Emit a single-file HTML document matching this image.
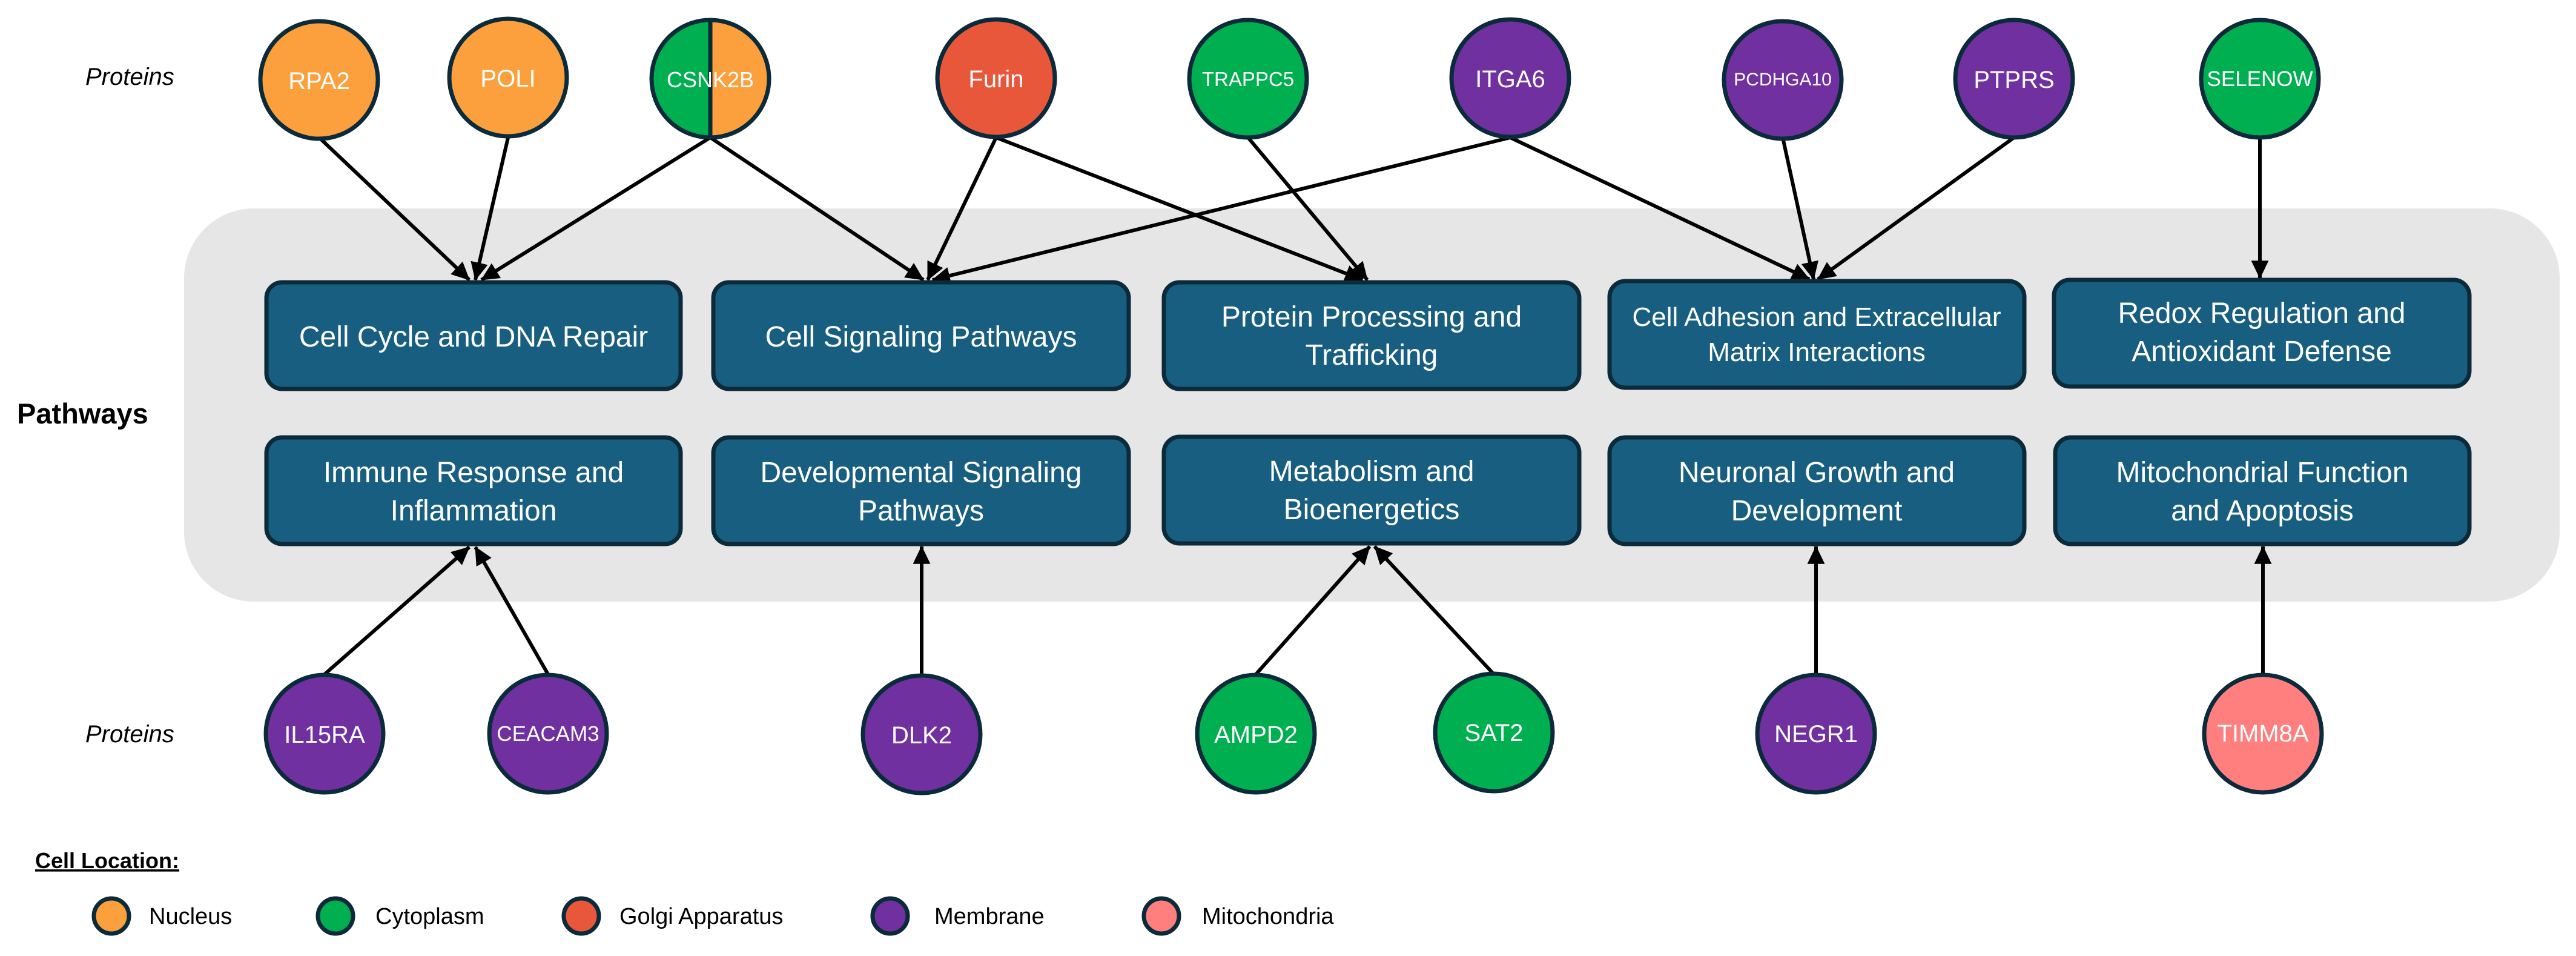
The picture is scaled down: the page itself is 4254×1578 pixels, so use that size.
<!DOCTYPE html>
<html><head><meta charset="utf-8"><style>
html,body{margin:0;padding:0;background:#fff;}
svg{display:block;}
text{font-family:"Liberation Sans",sans-serif;}
</style></head><body>
<svg width="4254" height="1578" viewBox="0 0 4254 1578" xmlns="http://www.w3.org/2000/svg">
<defs>
<marker id="ah" markerWidth="6" markerHeight="6" refX="4.8" refY="3" orient="auto" markerUnits="strokeWidth">
<path d="M0,0.6 L5,3 L0,5.4 Z" fill="#000"/>
</marker>
<clipPath id="cl"><circle cx="1173" cy="130" r="97"/></clipPath>
</defs>
<!-- gray band -->
<rect x="304" y="344" width="3923" height="649" rx="115" fill="#e6e6e6"/>
<text x="28" y="699" font-size="47" font-weight="bold" fill="#000">Pathways</text>
<text x="141" y="140" font-size="40" font-style="italic" fill="#000">Proteins</text>
<text x="141" y="1225" font-size="40" font-style="italic" fill="#000">Proteins</text>

<!-- connectors -->
<g stroke="#000" stroke-width="6" fill="none" marker-end="url(#ah)">
<line x1="527" y1="227" x2="775" y2="462"/>
<line x1="839" y1="227" x2="785" y2="462"/>
<line x1="1173" y1="227" x2="795" y2="462"/>
<line x1="1173" y1="227" x2="1525" y2="462"/>
<line x1="1645" y1="227" x2="1532" y2="462"/>
<line x1="2494" y1="227" x2="1540" y2="462"/>
<line x1="1645" y1="227" x2="2250" y2="462"/>
<line x1="2061" y1="227" x2="2258" y2="462"/>
<line x1="2494" y1="227" x2="2988" y2="461"/>
<line x1="2944" y1="227" x2="2995" y2="461"/>
<line x1="3326" y1="227" x2="3002" y2="461"/>
<line x1="3732" y1="227" x2="3732" y2="459"/>
<line x1="536" y1="1113" x2="775" y2="903"/>
<line x1="905" y1="1113" x2="785" y2="903"/>
<line x1="1522" y1="1113" x2="1522" y2="902"/>
<line x1="2074" y1="1113" x2="2262" y2="902"/>
<line x1="2467" y1="1113" x2="2270" y2="902"/>
<line x1="2999" y1="1113" x2="2999" y2="902"/>
<line x1="3737" y1="1113" x2="3737" y2="902"/>
</g>

<!-- boxes -->
<g fill="#175e80" stroke="#0b2a3a" stroke-width="7">
<rect x="440" y="466" width="684" height="176" rx="26"/>
<rect x="1178" y="466" width="686" height="176" rx="26"/>
<rect x="1922" y="466" width="686" height="176" rx="26"/>
<rect x="2658" y="464" width="685" height="176" rx="26"/>
<rect x="3392" y="462" width="686" height="176" rx="26"/>
<rect x="440" y="722" width="684" height="176" rx="26"/>
<rect x="1178" y="722" width="686" height="176" rx="26"/>
<rect x="1922" y="721" width="686" height="176" rx="26"/>
<rect x="2658" y="722" width="685" height="176" rx="26"/>
<rect x="3394" y="722" width="684" height="176" rx="26"/>
</g>
<g fill="#fff" font-size="48" text-anchor="middle">
<text x="782" y="572">Cell Cycle and DNA Repair</text>
<text x="1521" y="572">Cell Signaling Pathways</text>
<text x="2265" y="539">Protein Processing and</text>
<text x="2265" y="602">Trafficking</text>
<text x="3000" y="538" font-size="44">Cell Adhesion and Extracellular</text>
<text x="3000" y="596" font-size="44">Matrix Interactions</text>
<text x="3735" y="533">Redox Regulation and</text>
<text x="3735" y="596">Antioxidant Defense</text>
<text x="782" y="796">Immune Response and</text>
<text x="782" y="859">Inflammation</text>
<text x="1521" y="796">Developmental Signaling</text>
<text x="1521" y="859">Pathways</text>
<text x="2265" y="794">Metabolism and</text>
<text x="2265" y="857">Bioenergetics</text>
<text x="3000" y="796">Neuronal Growth and</text>
<text x="3000" y="859">Development</text>
<text x="3736" y="796">Mitochondrial Function</text>
<text x="3736" y="859">and Apoptosis</text>
</g>

<!-- circles -->
<g stroke="#0b2a3a" stroke-width="7">
<circle cx="527" cy="132" r="97" fill="#fba03c"/>
<circle cx="839" cy="128" r="97" fill="#fba03c"/>
<g clip-path="url(#cl)"><rect x="1070" y="30" width="103" height="200" fill="#00b050" stroke="none"/><rect x="1173" y="30" width="103" height="200" fill="#fba03c" stroke="none"/></g>
<circle cx="1173" cy="130" r="97" fill="none"/>
<line x1="1173" y1="35" x2="1173" y2="225"/>
<circle cx="1645" cy="129" r="97" fill="#e9573a"/>
<circle cx="2061" cy="130" r="97" fill="#00b050"/>
<circle cx="2494" cy="129" r="97" fill="#7030a0"/>
<circle cx="2944" cy="132" r="97" fill="#7030a0"/>
<circle cx="3326" cy="130" r="97" fill="#7030a0"/>
<circle cx="3732" cy="130" r="97" fill="#00b050"/>
<circle cx="536" cy="1211" r="97" fill="#7030a0"/>
<circle cx="905" cy="1211" r="97" fill="#7030a0"/>
<circle cx="1522" cy="1212" r="97" fill="#7030a0"/>
<circle cx="2074" cy="1211" r="97" fill="#00b050"/>
<circle cx="2467" cy="1209" r="97" fill="#00b050"/>
<circle cx="2999" cy="1211" r="97" fill="#7030a0"/>
<circle cx="3737" cy="1211" r="97" fill="#ff7f7f"/>
</g>
<g fill="#fff" font-size="40" text-anchor="middle">
<text x="527" y="147">RPA2</text>
<text x="839" y="143">POLI</text>
<text x="1173" y="144" font-size="36">CSNK2B</text>
<text x="1645" y="144">Furin</text>
<text x="2061" y="142" font-size="33">TRAPPC5</text>
<text x="2494" y="144">ITGA6</text>
<text x="2944" y="141" font-size="30">PCDHGA10</text>
<text x="3326" y="145">PTPRS</text>
<text x="3732" y="142" font-size="35">SELENOW</text>
<text x="536" y="1226">IL15RA</text>
<text x="905" y="1223" font-size="35">CEACAM3</text>
<text x="1522" y="1227">DLK2</text>
<text x="2074" y="1226">AMPD2</text>
<text x="2467" y="1223">SAT2</text>
<text x="2999" y="1225">NEGR1</text>
<text x="3737" y="1224">TIMM8A</text>
</g>

<!-- legend -->
<text x="58" y="1433" font-size="36" font-weight="bold" fill="#000" text-decoration="underline">Cell Location:</text>
<g stroke="#0b2a3a" stroke-width="7">
<circle cx="184" cy="1512" r="29" fill="#fba03c"/>
<circle cx="554" cy="1512" r="29" fill="#00b050"/>
<circle cx="960" cy="1512" r="29" fill="#e9573a"/>
<circle cx="1470" cy="1512" r="29" fill="#7030a0"/>
<circle cx="1918" cy="1512" r="29" fill="#ff7f7f"/>
</g>
<g fill="#000" font-size="38">
<text x="246" y="1525">Nucleus</text>
<text x="620" y="1525">Cytoplasm</text>
<text x="1023" y="1525">Golgi Apparatus</text>
<text x="1543" y="1525">Membrane</text>
<text x="1985" y="1525">Mitochondria</text>
</g>
</svg>
</body></html>
